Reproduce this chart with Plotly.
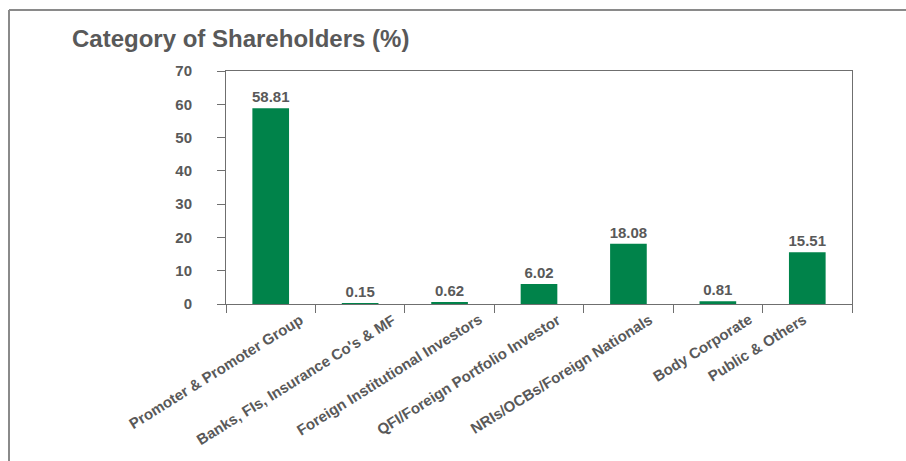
import plotly.graph_objects as go

# Shareholding pattern by category (%)
categories = [
    "Promoter & Promoter Group",
    "Banks, FIs, Insurance Co's & MF",
    "Foreign Institutional Investors",
    "QFI/Foreign Portfolio Investor",
    "NRIs/OCBs/Foreign Nationals",
    "Body Corporate",
    "Public & Others",
]
shares = [58.81, 0.15, 0.62, 6.02, 18.08, 0.81, 15.51]
y_ticks = [0, 10, 20, 30, 40, 50, 60, 70]

# horizontal nudge (px) of each slanted category label from its slot centre
label_nudge = [38, 41, 38, 27, 30, 40, 5]

GREEN = "#00834A"
GREY_TEXT = "#595959"
AXIS = "#6f6f6f"
FONT = "Liberation Sans"

W, H = 906, 461
L, R, T, B = 226, 54, 71, 157
pw, ph = W - L - R, H - T - B

fig = go.Figure(
    go.Bar(
        x=categories,
        y=shares,
        marker=dict(color=GREEN, line=dict(width=0)),
        text=[f"{v:.2f}" for v in shares],
        textposition="outside",
        constraintext="none",
        textfont=dict(family=FONT, size=15, color=GREY_TEXT, weight="bold"),
        cliponaxis=False,
    )
)

fig.update_layout(
    width=W,
    height=H,
    margin=dict(l=L, r=R, t=T, b=B, autoexpand=False),
    paper_bgcolor="white",
    plot_bgcolor="white",
    bargap=0.59,
    showlegend=False,
    title=dict(
        text="Category of Shareholders (%)",
        x=72 / W,
        xanchor="left",
        xref="container",
        y=1 - 30 / H,
        yanchor="top",
        yref="container",
        font=dict(family=FONT, size=24, color=GREY_TEXT, weight="bold"),
    ),
    xaxis=dict(
        type="category",
        categoryarray=categories,
        range=[-0.5, len(categories) - 0.5],
        showline=True,
        linecolor=AXIS,
        linewidth=1,
        mirror=True,
        ticks="outside",
        tickson="boundaries",
        ticklen=8,
        tickcolor=AXIS,
        showticklabels=False,
        showgrid=False,
    ),
    yaxis=dict(
        range=[0, 70],
        tickvals=y_ticks,
        showline=True,
        linecolor=AXIS,
        linewidth=1,
        mirror=True,
        ticks="outside",
        ticklen=8,
        tickcolor=AXIS,
        ticklabelstandoff=22,
        tickfont=dict(family=FONT, size=15, color=GREY_TEXT, weight="bold"),
        showgrid=False,
        zeroline=False,
    ),
)

# Slanted category labels hanging below the axis
for cat, nudge in zip(categories, label_nudge):
    fig.add_annotation(
        x=cat, y=0, xref="x", yref="y",
        text=cat, showarrow=False,
        textangle=-32,
        xanchor="right", yanchor="top",
        xshift=nudge, yshift=-4,
        font=dict(family=FONT, size=15, color=GREY_TEXT, weight="bold"),
    )

# Outer frame: top and left rules of the panel
def px_to_paper_x(px):
    return (px - L) / pw

def px_to_paper_y(py):
    return (H - B - py) / ph

frame = dict(color="#8a8a8a", width=2)
fig.add_shape(type="line", xref="paper", yref="paper",
              x0=px_to_paper_x(9), x1=px_to_paper_x(W), y0=px_to_paper_y(10), y1=px_to_paper_y(10),
              line=frame)
fig.add_shape(type="line", xref="paper", yref="paper",
              x0=px_to_paper_x(9), x1=px_to_paper_x(9), y0=px_to_paper_y(10), y1=px_to_paper_y(H),
              line=frame)

fig.write_html("out.html")
